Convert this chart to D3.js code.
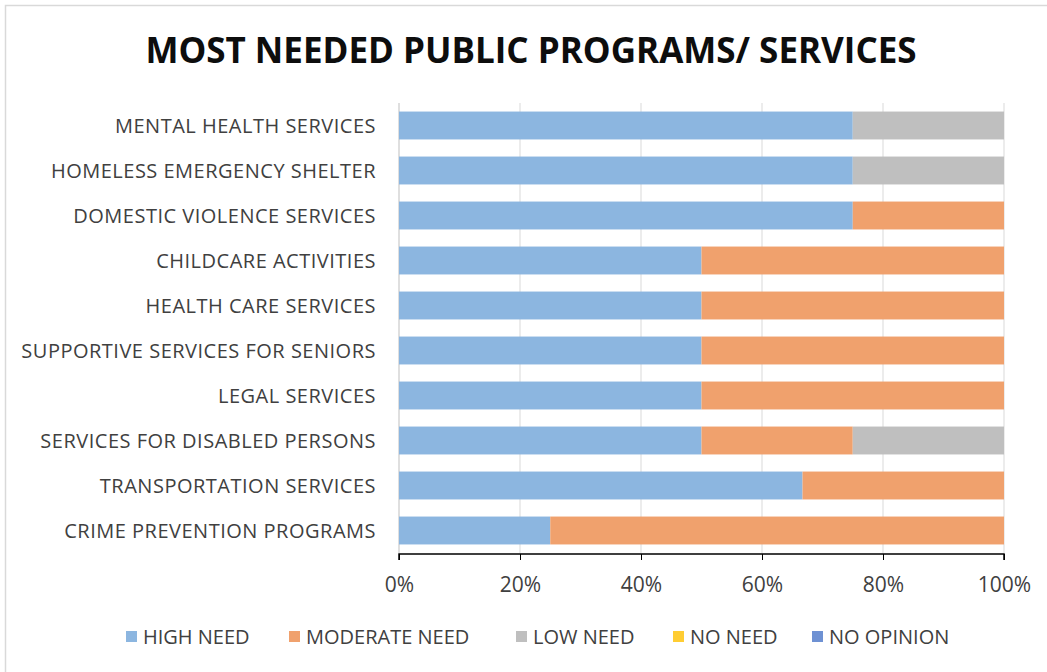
<!DOCTYPE html>
<html>
<head>
<meta charset="utf-8">
<script src="https://cdn.jsdelivr.net/npm/d3@7"></script>
<style>
  body { margin: 0; background: #fff; }
  svg { display: block; }
</style>
</head>
<body>
<div id="chart"></div>
<script>
// categories, top to bottom
const categories = [
  "MENTAL HEALTH SERVICES",
  "HOMELESS EMERGENCY SHELTER",
  "DOMESTIC VIOLENCE SERVICES",
  "CHILDCARE ACTIVITIES",
  "HEALTH CARE SERVICES",
  "SUPPORTIVE SERVICES FOR SENIORS",
  "LEGAL SERVICES",
  "SERVICES FOR DISABLED PERSONS",
  "TRANSPORTATION SERVICES",
  "CRIME PREVENTION PROGRAMS"
];

const seriesNames = ["HIGH NEED", "MODERATE NEED", "LOW NEED", "NO NEED", "NO OPINION"];
const seriesColors = ["#8cb6e0", "#f0a16d", "#bfbfbf", "#ffcd33", "#6e91d3"];

// percent of responses, same order as categories
const highNeed     = [75, 75, 75, 50, 50, 50, 50, 50, 66.7, 25];
const moderateNeed = [0, 0, 25, 50, 50, 50, 50, 25, 33.3, 75];
const lowNeed      = [25, 25, 0, 0, 0, 0, 0, 25, 0, 0];
const noNeed       = [0, 0, 0, 0, 0, 0, 0, 0, 0, 0];
const noOpinion    = [0, 0, 0, 0, 0, 0, 0, 0, 0, 0];

const tickValues = [0, 20, 40, 60, 80, 100];

let W = 1047, H = 672;
let margin = { top: 103, left: 399, right: 43, bottom: 119 };
let plotW = W - margin.left - margin.right;
let plotH = H - margin.top - margin.bottom;

// build rows for the stack
let rows = categories.map((c, i) => ({
  cat: c,
  "HIGH NEED": highNeed[i],
  "MODERATE NEED": moderateNeed[i],
  "LOW NEED": lowNeed[i],
  "NO NEED": noNeed[i],
  "NO OPINION": noOpinion[i]
}));
let stacked = d3.stack().keys(seriesNames)(rows);

let svg = d3.select("#chart").append("svg")
  .attr("width", W)
  .attr("height", H);

// chart frame
svg.append("rect")
  .attr("x", 5.5).attr("y", 5.5)
  .attr("width", W + 10).attr("height", H + 10)
  .attr("fill", "#fff")
  .attr("stroke", "#d9d9d9")
  .attr("stroke-width", 1.5);

// title
svg.append("text")
  .attr("x", 531)
  .attr("y", 63)
  .attr("text-anchor", "middle")
  .style("font-family", "'Open Sans', sans-serif")
  .style("font-weight", "bold")
  .style("font-size", "35px")
  .attr("fill", "#0d0d0d")
  .text("MOST NEEDED PUBLIC PROGRAMS/ SERVICES");

let g = svg.append("g").attr("transform", `translate(${margin.left},${margin.top})`);

let x = d3.scaleLinear().domain([0, 100]).range([0, plotW]);
let y = d3.scaleBand().domain(categories).range([0, plotH]).paddingInner(0.38).paddingOuter(0.19);
let color = d3.scaleOrdinal().domain(seriesNames).range(seriesColors);

// gridlines
g.append("g")
  .selectAll("line")
  .data(tickValues.slice(1))
  .enter().append("line")
  .attr("x1", d => x(d)).attr("x2", d => x(d))
  .attr("y1", 0).attr("y2", plotH)
  .attr("stroke", "#d9d9d9")
  .attr("stroke-width", 1);

// left axis line
g.append("line")
  .attr("x1", 0).attr("x2", 0)
  .attr("y1", 0).attr("y2", plotH)
  .attr("stroke", "#bfbfbf");

// bars
g.append("g")
  .selectAll("g")
  .data(stacked)
  .enter().append("g")
  .attr("fill", d => color(d.key))
  .selectAll("rect")
  .data(d => d)
  .enter().append("rect")
  .attr("x", d => x(d[0]))
  .attr("y", d => y(d.data.cat))
  .attr("width", d => x(d[1]) - x(d[0]))
  .attr("height", y.bandwidth());

// category labels
g.append("g")
  .selectAll("text")
  .data(categories)
  .enter().append("text")
  .attr("x", -23)
  .attr("y", d => y(d) + y.bandwidth() / 2)
  .attr("dy", "0.35em")
  .attr("text-anchor", "end")
  .style("font-family", "'Open Sans', sans-serif")
  .style("font-size", "20px")
  .style("letter-spacing", "0.5px")
  .attr("fill", "#404040")
  .text(d => d);

// bottom axis
let xAxis = d3.axisBottom(x)
  .tickValues(tickValues)
  .tickFormat(d => d + "%")
  .tickSize(6)
  .tickPadding(17);

let ax = g.append("g")
  .attr("transform", `translate(0,${plotH + 1})`)
  .call(xAxis);
ax.select(".domain").attr("stroke", "#000").attr("stroke-width", 1.5)
  .attr("d", `M0,6V0H${plotW}V6`);
ax.selectAll(".tick line").attr("stroke", "#000");
ax.selectAll(".tick text")
  .style("font-family", "'Open Sans', sans-serif")
  .style("font-size", "21px")
  .attr("fill", "#404040");

// legend
let legendX = [126, 289, 516, 673, 812];
let legend = svg.append("g")
  .selectAll("g")
  .data(seriesNames)
  .enter().append("g")
  .attr("transform", (d, i) => `translate(${legendX[i]},637)`);

legend.append("rect")
  .attr("x", 0).attr("y", -6)
  .attr("width", 11).attr("height", 11)
  .attr("fill", d => color(d));

legend.append("text")
  .attr("x", 17)
  .attr("y", 0)
  .attr("dy", "0.35em")
  .style("font-family", "'Open Sans', sans-serif")
  .style("font-size", "20px")
  .attr("fill", "#404040")
  .text(d => d);
</script>
</body>
</html>
